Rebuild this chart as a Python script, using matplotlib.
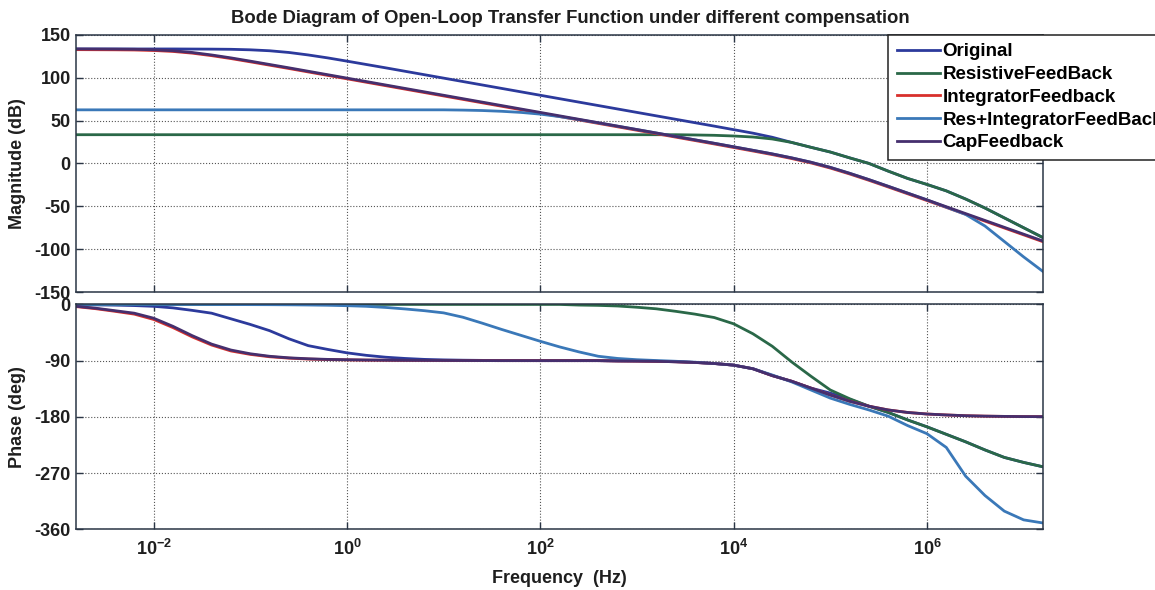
import numpy as np
import matplotlib.pyplot as plt
from matplotlib.ticker import NullLocator

plt.rcParams['font.family'] = ['Liberation Sans', 'DejaVu Sans']
plt.rcParams['font.weight'] = 'bold'
plt.rcParams['axes.labelweight'] = 'bold'
plt.rcParams['axes.unicode_minus'] = False
plt.rcParams['mathtext.fontset'] = 'custom'
plt.rcParams['mathtext.rm'] = 'Liberation Sans:bold'
plt.rcParams['mathtext.it'] = 'Liberation Sans:bold:italic'
plt.rcParams['mathtext.default'] = 'rm'

# frequency grid, 0.2 decade steps from 10^-2.8 to 10^7.2 Hz
log_f = np.round(np.arange(-2.8, 7.21, 0.2), 1)
freq = 10.0 ** log_f

labels = ["Original", "ResistiveFeedBack", "IntegratorFeedback",
          "Res+IntegratorFeedBack", "CapFeedback"]
colors = ["#2c3a9c", "#2a6848", "#d8302c", "#3a78b8", "#452f6e"]

# magnitude (dB)
mag_original = [
    133.5, 133.5, 133.5, 133.5, 133.5, 133.5, 133.4, 133.3, 133.1, 132.5,
    131.4, 129.4, 126.5, 123.1, 119.3, 115.4, 111.5, 107.5, 103.5, 99.5,
    95.5, 91.5, 87.5, 83.5, 79.5, 75.5, 71.5, 67.5, 63.5, 59.5,
    55.5, 51.5, 47.5, 43.5, 39.4, 35.3, 30.5, 24.5, 18.8, 13.3,
    6.5, 0.0, -9.0, -17.5, -24.5, -32.0, -41.5, -52.0, -63.5, -75.0,
    -86.5]
mag_resistive = [
    33.5, 33.5, 33.5, 33.5, 33.5, 33.5, 33.5, 33.5, 33.5, 33.5,
    33.5, 33.5, 33.5, 33.5, 33.5, 33.5, 33.5, 33.5, 33.5, 33.5,
    33.5, 33.5, 33.5, 33.5, 33.5, 33.5, 33.5, 33.5, 33.5, 33.5,
    33.5, 33.5, 33.2, 32.8, 32.0, 30.8, 28.5, 24.5, 18.8, 13.3,
    6.5, 0.0, -9.0, -17.5, -24.5, -32.0, -41.5, -52.0, -63.5, -75.0,
    -86.5]
mag_integrator = [
    132.7, 132.6, 132.5, 132.3, 131.7, 130.6, 128.6, 125.7, 122.3, 118.5,
    114.6, 110.7, 106.7, 102.7, 98.7, 94.7, 90.7, 86.7, 82.7, 78.7,
    74.7, 70.7, 66.7, 62.7, 58.7, 54.7, 50.7, 46.7, 42.7, 38.7,
    34.7, 30.7, 26.7, 22.7, 18.6, 14.5, 10.3, 5.7, 0.6, -5.4,
    -12.3, -19.7, -27.5, -35.4, -43.3, -51.3, -59.3, -67.3, -75.3, -83.3,
    -91.3]
mag_res_int = [
    62.5, 62.5, 62.5, 62.5, 62.5, 62.5, 62.5, 62.5, 62.5, 62.5,
    62.5, 62.5, 62.5, 62.5, 62.5, 62.5, 62.5, 62.5, 62.5, 62.5,
    62.2, 61.7, 60.8, 59.5, 57.5, 54.6, 51.1, 47.3, 43.4, 39.5,
    35.5, 31.5, 27.5, 23.5, 19.4, 15.3, 11.1, 6.5, 1.4, -4.6,
    -11.5, -18.9, -26.7, -34.6, -42.5, -51.0, -59.5, -73.0, -91.0, -109.0,
    -126.0]
mag_cap = [
    133.5, 133.4, 133.3, 133.1, 132.5, 131.4, 129.4, 126.5, 123.1, 119.3,
    115.4, 111.5, 107.5, 103.5, 99.5, 95.5, 91.5, 87.5, 83.5, 79.5,
    75.5, 71.5, 67.5, 63.5, 59.5, 55.5, 51.5, 47.5, 43.5, 39.5,
    35.5, 31.5, 27.5, 23.5, 19.4, 15.3, 11.1, 6.5, 1.4, -4.6,
    -11.5, -18.9, -26.7, -34.6, -42.5, -50.5, -58.5, -66.5, -74.5, -82.5,
    -90.5]

# phase (deg)
ph_original = [
    -0.5, -0.7, -1.1, -1.8, -3.0, -5.5, -9.5, -14.0, -23.0, -32.0,
    -42.0, -55.0, -66.0, -72.0, -77.5, -81.5, -84.5, -86.5, -88.0, -88.8,
    -89.3, -89.6, -89.8, -89.9, -90.0, -90.0, -90.0, -90.0, -90.5, -90.7,
    -91.1, -91.8, -92.9, -94.6, -97.2, -103.0, -114.0, -123.0, -134.0, -142.0,
    -152.0, -163.0, -173.0, -185.0, -196.0, -208.0, -220.0, -233.0, -245.0, -253.0,
    -260.0]
ph_resistive = [
    0.0, 0.0, 0.0, 0.0, 0.0, 0.0, 0.0, 0.0, 0.0, 0.0,
    0.0, 0.0, 0.0, 0.0, 0.0, 0.0, 0.0, 0.0, 0.0, 0.0,
    0.0, 0.0, 0.0, 0.0, 0.0, 0.0, -1.0, -1.5, -2.5, -4.5,
    -7.0, -11.0, -15.5, -21.0, -31.0, -47.0, -67.0, -92.0, -115.0, -137.0,
    -151.0, -163.0, -173.0, -185.0, -196.0, -208.0, -220.0, -233.0, -245.0, -253.0,
    -260.0]
ph_integrator = [
    -3.5, -6.8, -11.0, -15.5, -24.0, -37.0, -52.0, -65.0, -74.5, -80.0,
    -83.8, -86.0, -87.5, -88.3, -88.8, -89.2, -89.4, -89.6, -89.7, -89.8,
    -89.8, -89.9, -90.0, -90.0, -90.0, -90.0, -90.0, -90.0, -90.5, -90.7,
    -91.1, -91.8, -92.9, -94.6, -97.2, -103.0, -114.0, -123.0, -134.0, -145.0,
    -155.0, -163.0, -169.0, -173.0, -175.5, -177.0, -178.2, -178.9, -179.3, -179.6,
    -179.7]
ph_res_int = [
    0.0, 0.0, 0.0, 0.0, 0.0, 0.0, 0.0, -0.1, -0.2, -0.3,
    -0.4, -0.6, -0.9, -1.3, -2.0, -3.0, -4.8, -7.2, -10.0, -13.5,
    -20.5, -30.0, -40.0, -49.5, -59.0, -68.0, -76.0, -83.0, -86.5, -88.5,
    -89.8, -91.0, -92.5, -94.6, -97.2, -103.0, -113.0, -124.0, -137.0, -150.0,
    -160.0, -169.0, -179.0, -194.0, -207.0, -229.0, -275.0, -306.0, -331.0, -345.0,
    -350.0]
ph_cap = [
    -3.0, -6.0, -10.0, -14.0, -22.0, -35.0, -50.0, -63.5, -73.0, -79.0,
    -83.0, -85.5, -87.0, -88.0, -88.5, -89.0, -89.3, -89.5, -89.6, -89.7,
    -89.8, -89.9, -90.0, -90.0, -90.0, -90.0, -90.0, -90.0, -90.5, -90.7,
    -91.1, -91.8, -92.9, -94.6, -97.2, -103.0, -114.0, -123.0, -134.0, -145.0,
    -155.0, -163.0, -169.0, -173.0, -175.5, -177.0, -178.2, -178.9, -179.3, -179.6,
    -179.7]

mags = [mag_original, mag_resistive, mag_integrator, mag_res_int, mag_cap]
phases = [ph_original, ph_resistive, ph_integrator, ph_res_int, ph_cap]

fig = plt.figure(figsize=(11.55, 5.90), dpi=100)
ax_mag = fig.add_axes([0.066, 0.505, 0.837, 0.436])
ax_ph = fig.add_axes([0.066, 0.103, 0.837, 0.381])

spine_col = "#2a3545"
txt_col = "#1e1e1e"
handles = []
for m, p, c, lab in zip(mags, phases, colors, labels):
    h, = ax_mag.plot(freq, m, color=c, lw=2.0, label=lab)
    ax_ph.plot(freq, p, color=c, lw=2.0)
    handles.append(h)

for ax in (ax_mag, ax_ph):
    ax.set_xscale('log')
    ax.set_xlim(10 ** -2.8, 10 ** 7.2)
    ax.set_xticks([1e-2, 1e0, 1e2, 1e4, 1e6])
    ax.xaxis.set_minor_locator(NullLocator())
    ax.grid(True, linestyle=':', color='#555555', lw=0.8)
    ax.tick_params(direction='in', top=True, right=True, length=5, width=1,
                   color=spine_col, labelsize=13, labelcolor=txt_col, pad=4)
    for s in ax.spines.values():
        s.set_color(spine_col)
        s.set_linewidth(1.1)

ax_mag.set_ylim(-150, 150)
ax_mag.set_yticks(np.arange(-150, 151, 50))
ax_mag.tick_params(labelbottom=False)

ax_ph.set_ylim(-360, 0)
ax_ph.set_yticks([-360, -270, -180, -90, 0])
ax_ph.set_xticklabels([r'$10^{-2}$', r'$10^{0}$', r'$10^{2}$', r'$10^{4}$', r'$10^{6}$'])
ax_ph.tick_params(axis='x', pad=7)

ax_mag.set_ylabel('Magnitude (dB)', fontsize=13, color=txt_col)
ax_mag.yaxis.set_label_coords(-0.052, 0.5)
ax_ph.set_ylabel('Phase (deg)', fontsize=13, color=txt_col)
ax_ph.yaxis.set_label_coords(-0.052, 0.5)
ax_ph.set_xlabel('Frequency  (Hz)', fontsize=13, color=txt_col)
ax_ph.xaxis.set_label_coords(0.5, -0.18)

fig.text(0.494, 0.968,
         'Bode Diagram of Open-Loop Transfer Function under different compensation',
         ha='center', va='center', fontsize=13.3, color=txt_col)

leg = fig.legend(handles=handles, loc='upper left', bbox_to_anchor=(0.769, 0.941),
                 borderaxespad=0, fancybox=False, framealpha=1, edgecolor='#222222',
                 fontsize=13.5, handlelength=2.3, handletextpad=0.15,
                 labelspacing=0.3, borderpad=0.45)
leg.get_frame().set_linewidth(1.1)

fig.savefig('out.png', dpi=100)
